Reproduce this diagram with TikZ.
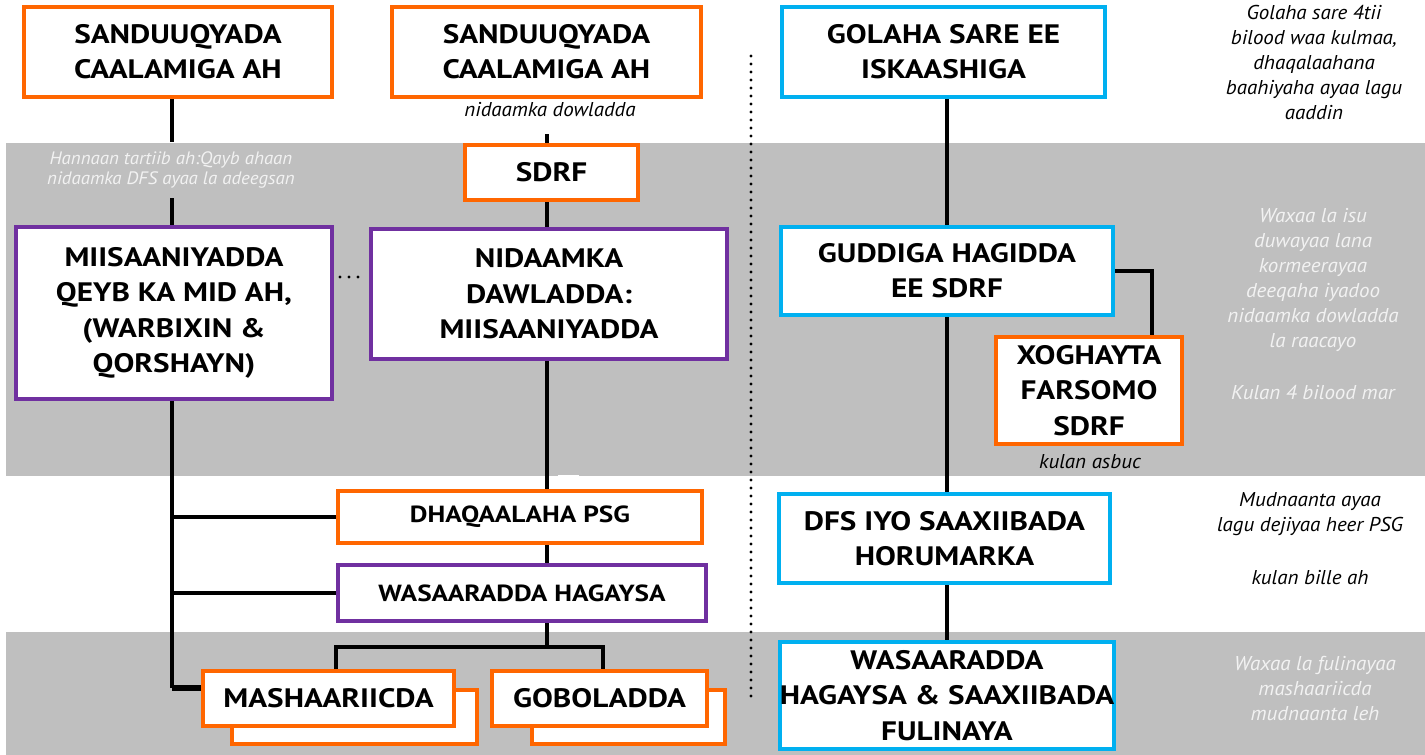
\documentclass[tikz,border=0pt]{standalone}
\usepackage{fontspec}
\setmainfont{PT Sans}
\newfontfamily\boxfont{PT Sans}[FakeStretch=1.17]
\newfontfamily\notefont{PT Sans}[FakeStretch=1.05]
\definecolor{borange}{HTML}{FF6600}
\definecolor{bpurple}{HTML}{7030A0}
\definecolor{bblue}{HTML}{00B0F0}
\definecolor{bandgray}{HTML}{BFBFBF}
\definecolor{notew}{HTML}{F2F2F2}
\tikzset{
  box/.style={draw, fill=white, line width=3pt, align=center, inner sep=0pt,
    font=\boxfont\bfseries\fontsize{20}{26.5}\selectfont},
  obox/.style={box, draw=borange},
  pbox/.style={box, draw=bpurple},
  bbox/.style={box, draw=bblue},
  smallfont/.style={font=\boxfont\bfseries\fontsize{17.5}{22}\selectfont},
  conn/.style={line width=3pt, black},
  thickconn/.style={line width=4.5pt, black},
  dotline/.style={line width=2.5pt, line cap=round, dash pattern=on 0pt off 6pt},
  dotlineh/.style={line width=2.5pt, line cap=round, dash pattern=on 0pt off 6.75pt},
  note/.style={align=center, inner sep=0pt, font=\notefont\itshape\fontsize{15}{18.75}\selectfont},
  wnote/.style={note, text=notew},
  hnote/.style={wnote, font=\notefont\itshape\fontsize{13.5}{15}\selectfont},
}
\newcommand\mybox[7]{\node[#6, minimum width={(#4-#2)*0.75pt-3pt}, minimum height={(#5-#3)*0.75pt-3pt}] (#1) at ({(#2+#4)/2},{(#3+#5)/2}) {#7};}
\begin{document}
\begin{tikzpicture}[x=0.75pt,y=-0.75pt]
\useasboundingbox (0,0) rectangle (1425,755);
% bands
\fill[bandgray] (6,143) rectangle (1425,476);
\fill[bandgray] (6,632) rectangle (1425,755);
\fill[white] (558,475) rectangle (579,488);
% left/middle column
\mybox{t1}{22}{5}{334}{99}{obox}{SANDUUQYADA\\CAALAMIGA AH}
\mybox{t2}{390}{5}{703}{99}{obox}{SANDUUQYADA\\CAALAMIGA AH}
\node[note, minimum height=36pt] (t2n) at (550,110) {nidaamka dowladda};
\node[hnote, minimum height=42pt] (hann) at (171,170) {Hannaan tartiib ah:Qayb ahaan\\nidaamka DFS ayaa la adeegsan};
\mybox{sdrf}{463}{143}{640}{202}{obox}{SDRF}
\mybox{m1}{14}{225}{334}{401}{pbox}{MIISAANIYADDA\\QEYB KA MID AH,\\(WARBIXIN \&\\QORSHAYN)}
\mybox{nid}{369}{227}{729}{361}{pbox}{NIDAAMKA\\DAWLADDA:\\MIISAANIYADDA}
\mybox{dhaq}{336}{489}{704}{545}{obox,smallfont}{DHAQAALAHA PSG}
\mybox{was}{336}{563}{708}{623}{pbox,smallfont}{WASAARADDA HAGAYSA}
\mybox{mashb}{230}{688}{479}{746}{obox}{}
\mybox{mash}{201}{669}{456}{728}{obox}{MASHAARIICDA}
\mybox{gobb}{530}{688}{727}{746}{obox}{}
\mybox{gob}{490}{669}{709}{728}{obox}{GOBOLADDA}
% right column
\mybox{gol}{780}{5}{1107}{99}{bbox}{GOLAHA SARE EE\\ISKAASHIGA}
\mybox{gud}{779}{225}{1115}{317}{bbox}{GUDDIGA HAGIDDA\\EE SDRF}
\mybox{xog}{994}{335}{1184}{446}{obox}{XOGHAYTA\\FARSOMO\\SDRF}
\node[note] (xogn) at (1090,462) {kulan asbuc};
\mybox{dfs}{777}{492}{1112}{585}{bbox}{DFS IYO SAAXIIBADA\\HORUMARKA}
\mybox{was2}{779}{640}{1115}{751}{bbox}{WASAARADDA\\HAGAYSA \& SAAXIIBADA\\FULINAYA}
% notes on the right
\node[note] (n1) at (1314,63) {Golaha sare 4tii\\bilood waa kulmaa,\\dhaqalaahana\\baahiyaha ayaa lagu\\aaddin};
\node[wnote] (n2) at (1313,280) {Waxaa la isu\\duwayaa lana\\kormeerayaa\\deeqaha iyadoo\\nidaamka dowladda\\la raacayo};
\node[wnote] (n3) at (1313,393) {Kulan 4 bilood mar};
\node[note] (n4) at (1310,514) {Mudnaanta ayaa\\lagu dejiyaa heer PSG};
\node[note] (n5) at (1310,578) {kulan bille ah};
\node[wnote] (n6) at (1315,688) {Waxaa la fulinayaa\\mashaariicda\\mudnaanta leh};
% helper coordinates
\coordinate (lx) at (172,0);
\coordinate (mx) at (547,0);
\coordinate (rx) at (947,0);
\coordinate (xx) at (1152,0);
\coordinate (lb) at (172,688);
\coordinate (bj) at (547,647);
\coordinate (ml) at (336,647);
\coordinate (mr) at (603,647);
\coordinate (d1) at (751,56);
\coordinate (d2) at (751,697);
\coordinate (e1) at (340,277);
\coordinate (e2) at (359,277);
% connectors left
\draw[conn] (lx |- t1.south) -- (lx |- hann.north);
\draw[conn] (lx |- hann.south) -- (lx |- m1.north);
\draw[conn] (lx |- m1.south) -- (lb);
\draw[thickconn] (lb) -- (lb -| mash.west);
\draw[conn] (lx |- dhaq.west) -- (dhaq.west);
\draw[conn] (lx |- was.west) -- (was.west);
% connectors middle
\draw[conn] (mx |- t2n.south) -- (mx |- sdrf.north);
\draw[conn] (mx |- sdrf.south) -- (mx |- nid.north);
\draw[conn] (mx |- nid.south) -- (mx |- dhaq.north);
\draw[conn] (mx |- dhaq.south) -- (mx |- was.north);
\draw[conn] (mx |- was.south) -- (bj);
\draw[conn] (ml |- mash.north) -- (ml) -- (mr) -- (mr |- gob.north);
% connectors right
\draw[conn] (rx |- gol.south) -- (rx |- gud.north);
\draw[conn] (rx |- gud.south) -- (rx |- dfs.north);
\draw[conn] (rx |- dfs.south) -- (rx |- was2.north);
\draw[conn] (gud.east) -- (gud.east -| xx) -- (xx |- xog.north);
% dotted lines
\draw[dotline] (d1) -- (d2);
\draw[dotlineh] (e1) -- (e2);
\end{tikzpicture}
\end{document}
